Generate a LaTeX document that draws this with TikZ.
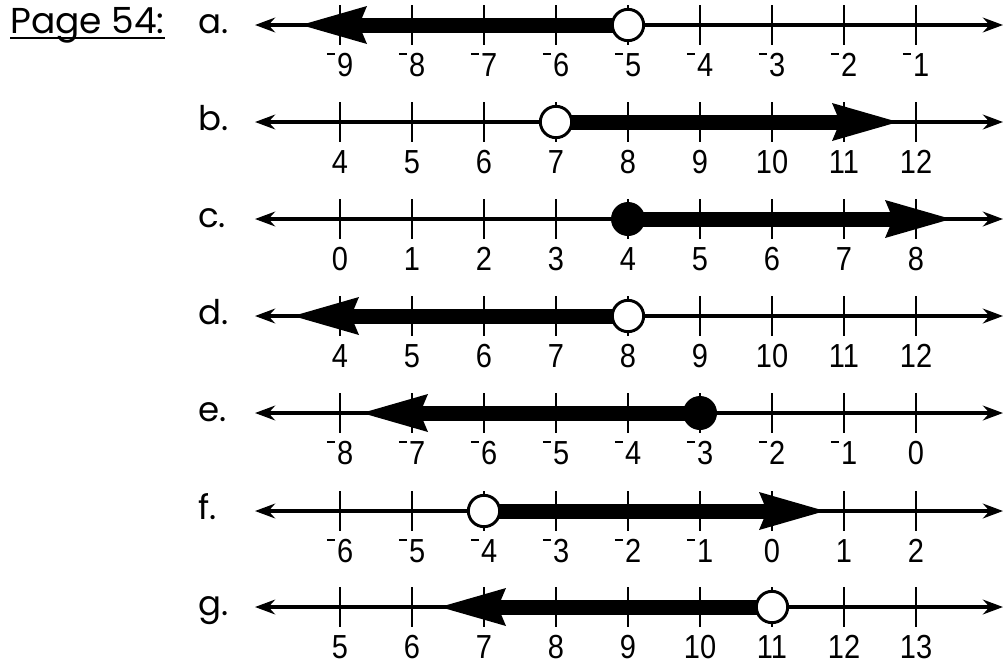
\documentclass[tikz,border=0pt]{standalone}
\usepackage{fontspec}
\setmainfont{Liberation Sans}
\newfontfamily\numfont[FakeStretch=0.87]{Liberation Sans}
\newfontfamily\headfont{Poppins}
\usetikzlibrary{arrows.meta}

% raised minus sign used on the number line labels
\newcommand{\mneg}{\rule[0.62em]{0.25em}{0.085em}\kern0.06em}

\begin{document}
\begin{tikzpicture}[x=0.75pt, y=-0.75pt, >={Stealth[length=15pt, width=11pt]},
  numline/.style={line width=3.5pt, <->},
  tickmark/.style={line width=2.2pt},
  ray/.style={line width=11.25pt},
  opendot/.style={circle, draw, fill=white, line width=2.2pt, minimum size=23.5pt, inner sep=0pt},
  closeddot/.style={circle, fill=black, minimum size=25.5pt, inner sep=0pt},
  numlabel/.style={anchor=base, inner sep=0pt, font=\numfont\fontsize{25}{28}\selectfont},
  rowlabel/.style={anchor=base west, inner sep=0pt, font=\headfont\fontsize{25.5}{28}\selectfont}]
  \useasboundingbox (0,0) rectangle (1005,665);

  \node[rowlabel, font=\headfont\fontsize{27}{30}\selectfont] (page) at (10,33) {Page 54:};
  \draw[line width=1.4pt] ([yshift=-4pt]page.base west) -- ([yshift=-4pt]page.base east);

  % row / line y / first label / dot index / dot style / arrow tip x
  \foreach \row/\yy/\first/\k/\dot/\tip in {
      a/25/-9/4/opendot/301,
      b/122/4/3/opendot/898,
      c/219/0/4/closeddot/951,
      d/316/4/4/opendot/293,
      e/413/-8/5/closeddot/362,
      f/511/-6/2/opendot/825,
      g/607/5/6/opendot/440} {
    \node[rowlabel] (\row) at (198,\yy+8) {\row.};
    \coordinate (\row-l) at (255,\yy);
    \coordinate (\row-r) at (1003,\yy);
    \draw[numline] (\row-l) -- (\row-r);
    \foreach \i in {0,...,8} {
      \pgfmathtruncatemacro{\v}{\first+\i}
      \pgfmathtruncatemacro{\av}{abs(\v)}
      \draw[tickmark] (340+72*\i,\yy-20) -- (340+72*\i,\yy+20);
      \node[numlabel] (\row-\i) at (340+72*\i,\yy+51) {\ifnum\v<0 \mneg\fi\av};
    }
    \pgfmathsetmacro{\dx}{340+72*\k}
    \pgfmathsetmacro{\s}{sign(\tip-\dx)}
    \coordinate (\row-p) at (\dx,\yy);
    \coordinate (\row-tip) at (\tip,\yy);
    \coordinate (\row-neck) at (\tip-58*\s,\yy);
    \draw[ray] (\row-p) -- (\row-neck);
    \fill (\row-tip) -- ++(-66*\s,-19) -- (\row-neck) -- ++(-8*\s,19) -- cycle;
    \node[\dot] (\row-dot) at (\row-p) {};
  }
\end{tikzpicture}
\end{document}
